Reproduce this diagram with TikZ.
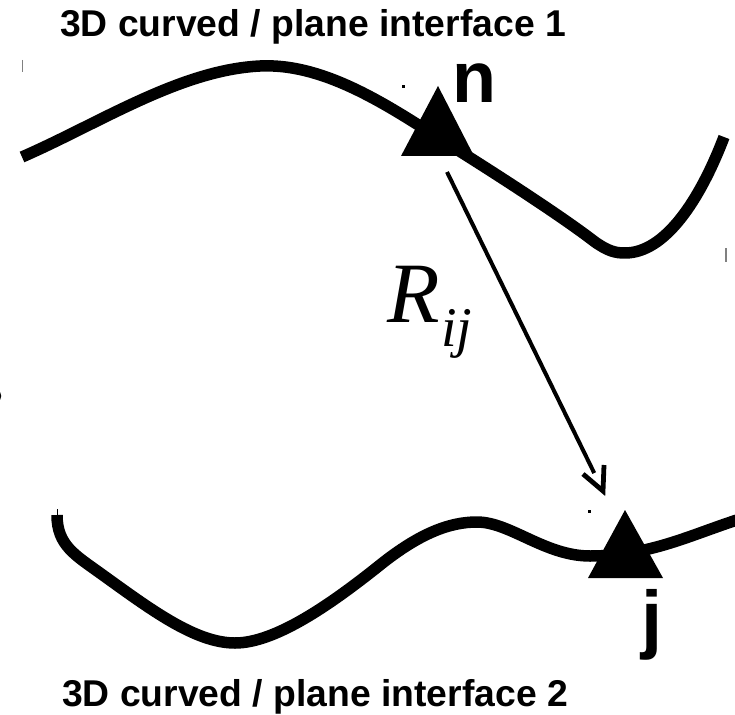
\documentclass[tikz,border=0pt]{standalone}
\usepackage{fontspec}
\setmainfont{Liberation Sans}
\newfontfamily\rserif{Liberation Serif}
\begin{document}
\begin{tikzpicture}[x=1pt,y=-1pt,
  curve/.style={line width=11.5pt, line cap=butt, line join=round},
  tri/.style={fill=black},
  title/.style={font=\bfseries\fontsize{37.3}{44}\selectfont, inner sep=0pt, anchor=base},
  big/.style={font=\bfseries\fontsize{72}{80}\selectfont, inner sep=0pt, anchor=base},
  tick/.style={line width=1.5pt, draw=gray},
  vecline/.style={line width=4pt, shorten >=20pt},
  barb/.style={line width=4.8pt, line join=miter, line cap=butt}]
\useasboundingbox (0,0) rectangle (735,714);
\clip (0,0) rectangle (735,714);
% titles
\node[title] (t1) at (313,37) {3D curved / plane interface 1};
\node[title] (t2) at (315,706) {3D curved / plane interface 2};
% curves
\draw[curve] (22,157) .. controls (100,123) and (180,70) .. (260,66)
  .. controls (320,63) and (380,100) .. (437,137)
  .. controls (490,170) and (560,215) .. (595,242)
  .. controls (608,251) and (615,253) .. (625,253)
  .. controls (665,253) and (700,200) .. (724,137);
\draw[curve] (57,515) .. controls (57,545) and (75,555) .. (100,573)
  .. controls (150,609) and (195,643) .. (235,643)
  .. controls (275,643) and (330,605) .. (380,565)
  .. controls (420,533) and (450,522) .. (477,522)
  .. controls (510,522) and (545,556) .. (590,556)
  .. controls (650,556) and (690,535) .. (740,519);
% triangles
\coordinate (nA) at (438,86);
\coordinate (nL) at (401,156);
\coordinate (nR) at (474,156);
\fill[tri] (nA) -- (nL) -- (nR) -- cycle;
\coordinate (jA) at (625,510);
\coordinate (jL) at (588,578);
\coordinate (jR) at (663,578);
\fill[tri] (jA) -- (jL) -- (jR) -- cycle;
% labels
\node[big] (n) at (474,103) {n};
\node[big, font=\bfseries\fontsize{76}{80}\selectfont] (j) at (652,644) {j};
\node[inner sep=0pt, anchor=base west, font=\rserif\itshape\fontsize{86}{90}\selectfont] (R) at (387,322) {R};
\node[inner sep=0pt, anchor=base west, font=\rserif\itshape\fontsize{56}{60}\selectfont] (ij) at (441,346) {ij};
% vector
\coordinate (vs) at (447,172);
\coordinate (ve) at (603,491);
\coordinate (w1) at (583,474);
\coordinate (w2) at (604,465);
\draw[vecline] (vs) -- (ve);
\draw[barb] (w1) -- (ve) -- (w2);
% small marks
\fill (401.5,85.5) rectangle (404.5,88.5);
\fill (587.5,509.5) rectangle (590.5,512.5);
\draw[tick] (22.5,60) -- (22.5,72);
\draw[tick] (726,248) -- (726,262);
\draw[line width=1pt] (57,509) -- (57,518);
\fill (-2,396) ellipse (3.2pt and 5pt);
\end{tikzpicture}
\end{document}
